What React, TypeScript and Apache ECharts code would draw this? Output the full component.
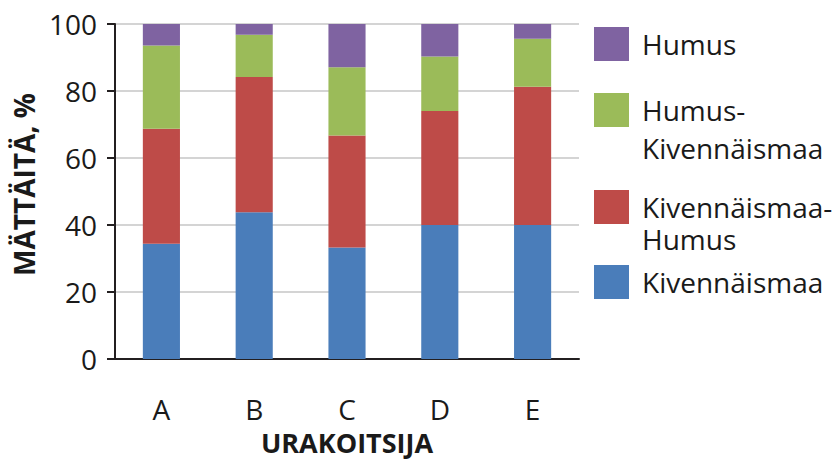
import React, { useEffect, useRef } from "react";
import * as echarts from "echarts";

const categories = ["A", "B", "C", "D", "E"];
const seriesNames = ["Kivennäismaa", "Kivennäismaa-Humus", "Humus-Kivennäismaa", "Humus"];
const legendLabels = ["Kivennäismaa", "Kivennäismaa-\nHumus", "Humus-\nKivennäismaa", "Humus"];
const kivennaismaa = [34.4, 43.8, 33.3, 40.0, 40.0];
const kivHumus = [34.3, 40.4, 33.4, 34.0, 41.3];
const humusKiv = [24.9, 12.6, 20.4, 16.3, 14.3];
const humus = [6.4, 3.2, 12.9, 9.7, 4.4];
const colors = ["#4a7dba", "#be4b48", "#9bbb59", "#7f63a1"];
const yTicks = [0, 20, 40, 60, 80, 100];

const FONT = "'Open Sans', 'DejaVu Sans', sans-serif";

export default function App() {
  const ref = useRef<HTMLDivElement>(null);
  useEffect(() => {
    if (!ref.current) return;
    const chart = echarts.init(ref.current, null, { renderer: "svg" });
    const values = [kivennaismaa, kivHumus, humusKiv, humus];
    const legendRows = [
      { idx: 3, top: 27, lh: 34 },
      { idx: 2, top: 93, lh: 38 },
      { idx: 1, top: 190, lh: 32 },
      { idx: 0, top: 265, lh: 34 },
    ];
    const graphic: any[] = [];
    legendRows.forEach((r) => {
      graphic.push({
        type: "rect",
        left: 594,
        top: r.top,
        shape: { width: 35, height: 34 },
        style: { fill: colors[r.idx] },
      });
      graphic.push({
        type: "text",
        x: 642,
        y: r.top + 17 - r.lh / 2,
        style: {
          text: legendLabels[r.idx],
          font: `28px ${FONT}`,
          fill: "#1a1a1a",
          verticalAlign: "top",
          lineHeight: r.lh,
        },
      });
    });

    chart.setOption({
      animation: false,
      grid: { left: 115, top: 24, width: 464, height: 335, containLabel: false, outerBoundsMode: "none" },
      xAxis: {
        type: "category",
        data: categories,
        axisLine: { lineStyle: { color: "#231f20", width: 2 } },
        axisTick: { show: false },
        axisLabel: { color: "#1a1a1a", fontFamily: FONT, fontSize: 28, margin: 36 },
        name: "URAKOITSIJA",
        nameLocation: "middle",
        nameGap: 67,
        nameTextStyle: { color: "#1a1a1a", fontFamily: FONT, fontSize: 27, fontWeight: "bold", lineHeight: 30 },
      },
      yAxis: {
        type: "value",
        min: 0,
        max: 100,
        interval: 20,
        axisLine: { show: true, lineStyle: { color: "#231f20", width: 2 } },
        axisTick: { show: true, inside: false, length: 8, lineStyle: { color: "#231f20", width: 2 } },
        axisLabel: { color: "#1a1a1a", fontFamily: FONT, fontSize: 28, margin: 18, formatter: (v: number) => (yTicks.includes(v) ? String(v) : "") },
        splitLine: { lineStyle: { color: "#d4d4d4", width: 2 } },
        name: "MÄTTÄITÄ, %",
        nameLocation: "middle",
        nameGap: 74,
        nameRotate: 90,
        nameTextStyle: { color: "#1a1a1a", fontFamily: FONT, fontSize: 28, fontWeight: "bold", padding: [0, 0, 0, 14] },
      },
      series: seriesNames.map((n, i) => ({
        name: n,
        type: "bar",
        stack: "total",
        barWidth: "40%",
        data: values[i],
        itemStyle: { color: colors[i] },
      })),
      graphic,
    });
    return () => chart.dispose();
  }, []);
  return <div ref={ref} style={{ position: "absolute", left: 0, top: 0, width: 836, height: 461, background: "#fff" }} />;
}
